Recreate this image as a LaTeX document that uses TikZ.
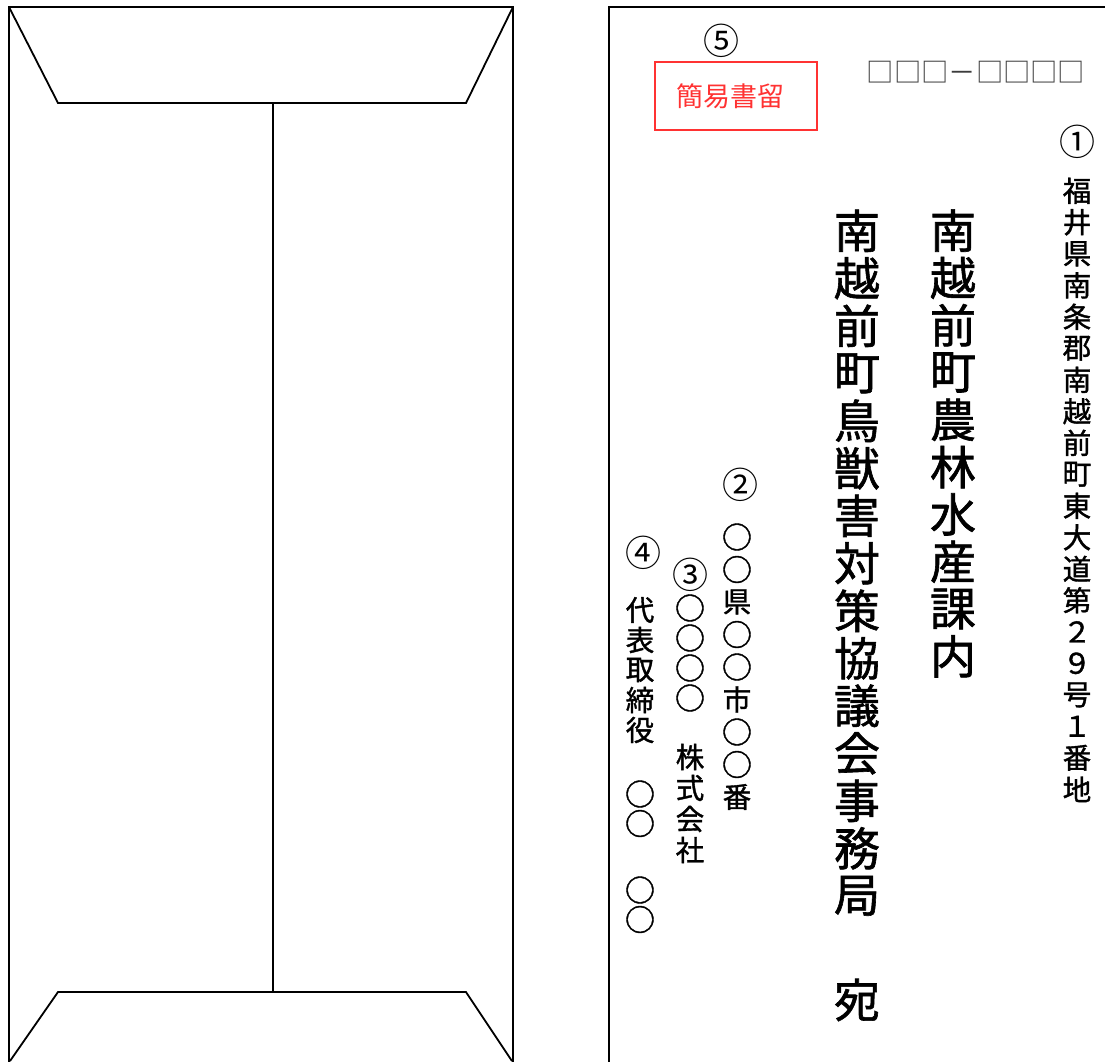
\documentclass[tikz,border=0pt]{standalone}
\usepackage{fontspec}
\newfontfamily\jp[FakeBold=1.3]{Noto Sans CJK JP}
\newfontfamily\jpthin{Noto Sans CJK JP}
\definecolor{stampred}{RGB}{255,50,50}
\definecolor{zipgray}{RGB}{60,60,60}
\newcommand\maru{{\fontsize{30}{30}\selectfont ○}}
\newcommand\vcolumn[6]{% name, x, y0, step, style, list
  \foreach \ch [count=\i from 0] in {#6} {\node[#5] (#1-\i) at (#2,{#3+#4*\i}) {\ch};}}
\tikzset{
  env/.style={line width=1.8pt, line join=miter},
  big/.style={inner sep=0pt, font=\jp\fontsize{46}{46}\selectfont},
  small/.style={inner sep=0pt, font=\jp\fontsize{28.5}{28.5}\selectfont},
  num/.style={inner sep=0pt, font=\jpthin\fontsize{36}{36}\selectfont},
}
\begin{document}
\begin{tikzpicture}[x=1pt,y=-1pt]
\useasboundingbox (0,0) rectangle (1105,1061);
% ---- back of envelope (left)
\coordinate (lt) at (9,7);
\coordinate (rt) at (513,7);
\coordinate (lb) at (9,1070);
\coordinate (rb) at (513,1070);
\coordinate (tfl) at (58,103);
\coordinate (tfr) at (466,103);
\coordinate (bfl) at (58,992);
\coordinate (bfr) at (466,992);
\coordinate (bl) at (10,1061);
\coordinate (br) at (512,1061);
\coordinate (ctop) at (273,103);
\coordinate (cbot) at (273,992);
\draw[env] (lb) -- (lt) -- (rt) -- (rb);
\draw[env] (lt) -- (tfl) -- (tfr) -- (rt);
\draw[env] (bl) -- (bfl) -- (bfr) -- (br);
\draw[env] (ctop) -- (cbot);
% ---- front of envelope (right)
\coordinate (flb) at (609,1070);
\coordinate (flt) at (609,7);
\coordinate (frt) at (1115,7);
\draw[env] (flb) -- (flt) -- (frt);
% stamp
\node[num] (n5) at (721,41) {⑤};
\node[draw=stampred, line width=1.2pt, minimum width=162pt, minimum height=68pt, inner sep=0pt] (stamp) at (736,96) {};
\node[inner sep=0pt, text=stampred, font=\jpthin\fontsize{27}{27}\selectfont] (stamptext) at (730,96) {簡易書留};
% postal code
\node[inner sep=0pt, text=zipgray, font=\jpthin\fontsize{27.3}{27.3}\selectfont] (zip) at (976,72) {□□□－□□□□};
% address
\node[num] (n1) at (1077,142) {①};
\vcolumn{addr}{1077}{190.8}{31.5}{small}{福,井,県,南,条,郡,南,越,前,町,東,大,道,第,２,９,号,１,番,地}
\vcolumn{deptA}{953}{230.6}{47.3}{big}{南,越,前,町,農,林,水,産,課,内}
\vcolumn{deptB}{857}{230.8}{47.5}{big}{南,越,前,町,鳥,獣,害,対,策,協,議,会,事,務,局}
\node[big] (ate) at (857,1000) {宛};
% sender
\node[num] (n2) at (740,485) {②};
\vcolumn{sadr}{737}{537}{32.5}{small}{\maru,\maru,県,\maru,\maru,市,\maru,\maru,番}
\node[num] (n3) at (690,575) {③};
\vcolumn{scoA}{690}{608}{30}{small}{\maru,\maru,\maru,\maru}
\vcolumn{scoB}{690}{757}{31}{small}{株,式,会,社}
\node[num] (n4) at (643,553) {④};
\vcolumn{srepA}{640}{610}{30}{small}{代,表,取,締,役}
\vcolumn{srepB}{640}{794}{29.5}{small}{\maru,\maru}
\vcolumn{srepC}{640}{890}{29.5}{small}{\maru,\maru}
\end{tikzpicture}
\end{document}
